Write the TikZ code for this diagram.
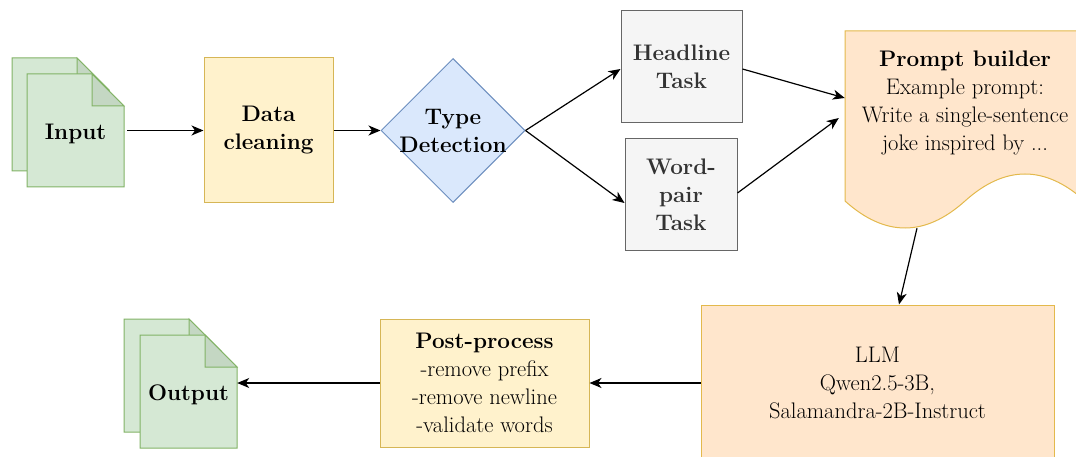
\documentclass[tikz,border=0pt]{standalone}
\usepackage{fontspec}
\usetikzlibrary{shapes.geometric,arrows.meta}

\definecolor{docfill}{HTML}{D5E8D4}
\definecolor{docline}{HTML}{82B366}
\definecolor{docfold}{HTML}{C4D7C3}
\definecolor{yelfill}{HTML}{FFF2CC}
\definecolor{yelline}{HTML}{D6B656}
\definecolor{bluefill}{HTML}{DAE8FC}
\definecolor{blueline}{HTML}{6C8EBF}
\definecolor{grayfill}{HTML}{F5F5F5}
\definecolor{grayline}{HTML}{666666}
\definecolor{graytext}{HTML}{333333}
\definecolor{orfill}{HTML}{FFE6CC}
\definecolor{orline}{HTML}{D79B00}

\tikzset{
  every node/.style={font=\rmfamily\fontsize{22.5}{28}\selectfont, align=center, inner sep=0pt},
  box/.style={rectangle, draw, line width=1pt, minimum width=#1},
  yellowbox/.style={box=#1, fill=yelfill, draw=yelline},
  graybox/.style={box=#1, fill=grayfill, draw=grayline, text=graytext, font=\rmfamily\fontsize{22.5}{28}\selectfont\bfseries},
  orangebox/.style={box=#1, fill=orfill, draw=orline!70},
  flow/.style={line width=1.2pt, -{Stealth[length=12pt, width=10pt, inset=3.5pt]}},
  pics/sheet/.style={code={
    \draw[line width=1pt, draw=docline, fill=docfill]
      (0,0) -- (65,0) -- (97,32) -- (97,113) -- (0,113) -- cycle;
    \draw[line width=1pt, draw=docline, fill=docfold]
      (65,0) -- (65,32) -- (97,32) -- cycle;
  }},
}

\begin{document}
\begin{tikzpicture}[x=1pt, y=-1pt]
\useasboundingbox (0,0) rectangle (1076,457);
\clip (0,0) rectangle (1076,457);

% input documents
\pic at (12,58) {sheet};
\pic at (27,74) {sheet};
\node[minimum width=97, minimum height=100] (in) at (75.5,134) {\bfseries Input};

% output documents
\pic at (124,319) {sheet};
\pic at (140,335) {sheet};
\node[minimum width=97, minimum height=100] (out) at (188.5,395) {\bfseries Output};

% cleaning step
\node[yellowbox=129, minimum height=145] (clean) at (268.5,130.5) {\bfseries Data\\\bfseries cleaning};

% type decision
\node[diamond, draw=blueline, fill=bluefill, line width=1pt, aspect=1,
      minimum width=144, minimum height=144] (type) at (453,130.5) {};
\node at (type.center) {\bfseries Type\\\bfseries Detection};

% task kinds
\node[graybox=121, minimum height=112] (head) at (681.5,67) {Headline\\Task};
\node[graybox=112, minimum height=111] (pair) at (681,194.5) {Word-\\pair\\Task};

% prompt builder (document shape with wavy bottom)
\node[minimum width=240, minimum height=197] (pb) at (965,129.5) {};
\filldraw[line width=1pt, fill=orfill, draw=orline!70]
  (845,31) -- (1085,31) -- (1085,201)
  .. controls (1045,165) and (1005,165) .. (965,201)
  .. controls (925,237) and (885,237) .. (845,201) -- cycle;
\node at (965,103) {\bfseries Prompt builder\\Example prompt:\\Write a single-sentence\\joke inspired by ...};

% language model
\node[orangebox=353, minimum height=156] (llm) at (877.5,383) {LLM\\Qwen2.5-3B,\\Salamandra-2B-Instruct};

% post-processing
\node[yellowbox=209, minimum height=128] (post) at (484.5,383) {\bfseries Post-process\\-remove prefix\\-remove newline\\-validate words};

% connectors
\draw[flow] ([xshift=3pt]in.east |- clean.west) -- (clean.west);
\draw[flow] (clean.east) -- (type.west);
\draw[flow] (type.east) -- ([yshift=-2pt]head.west);
\draw[flow] (type.east) -- ([yshift=-8.5pt]pair.west);
\draw[flow] ([yshift=-2pt]head.east) -- ([yshift=31.5pt]pb.west);
\draw[flow] ([yshift=1.5pt]pair.east) -- ([xshift=-6pt,yshift=11.5pt]pb.west);
\draw[flow] ([xshift=-48pt]pb.south) -- ([xshift=21.5pt]llm.north);
\draw[flow] (llm.west) -- (post.east);
\draw[flow] (post.west) -- (post.west -| out.east);
\end{tikzpicture}
\end{document}
